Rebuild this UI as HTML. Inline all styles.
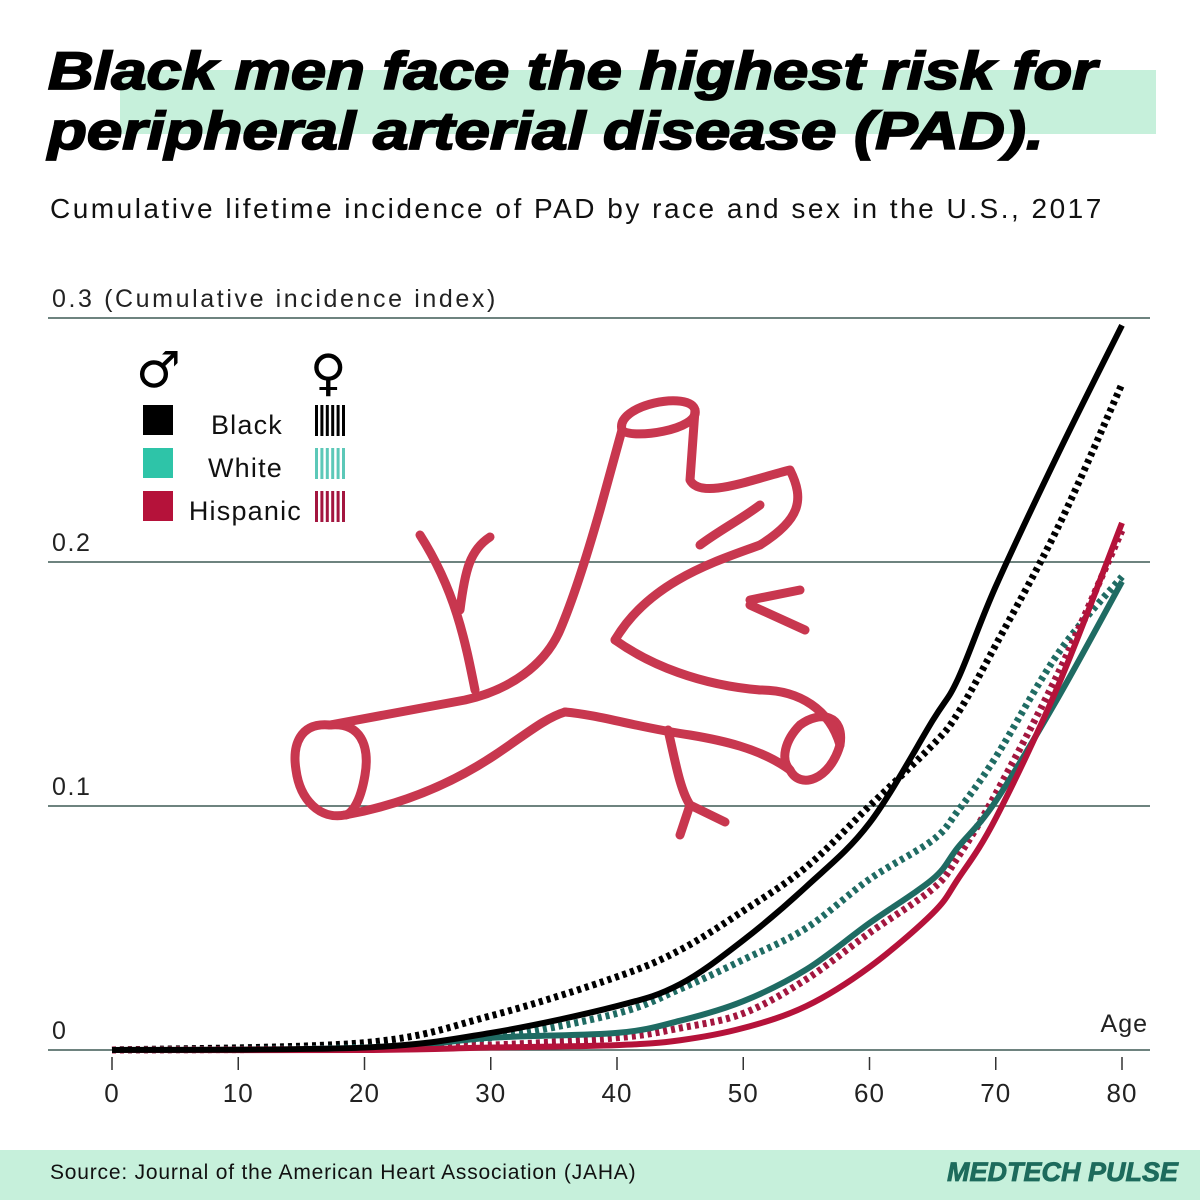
<!DOCTYPE html>
<html><head><meta charset="utf-8"><style>
body{margin:0;width:1200px;height:1200px;background:#fff;position:relative;overflow:hidden;font-family:"Liberation Sans",sans-serif}
.hl{position:absolute;left:120px;top:70px;width:1036px;height:64px;background:#c6f0db}
.t{position:absolute;left:48px;margin:0;font-size:53px;line-height:60px;font-weight:900;font-style:italic;color:#000;-webkit-text-stroke:1.8px #000;transform-origin:0 0;white-space:nowrap}
.sub{position:absolute;left:50px;top:193px;font-size:28px;letter-spacing:2.5px;color:#111;white-space:nowrap}
.foot{position:absolute;left:0;top:1150px;width:1200px;height:50px;background:#c6f0db}
.src{position:absolute;left:50px;top:1161px;font-size:21px;letter-spacing:0.8px;color:#111}
.brand{position:absolute;right:22px;top:1157px;font-size:27px;font-weight:900;font-style:italic;color:#1d6b5c;-webkit-text-stroke:0.8px #1d6b5c}
</style></head><body>
<div class="hl"></div>
<div>
<div class="t" style="top:42px;transform:scaleX(1.195)">Black men face the highest risk for</div>
<div class="t" style="top:102px;transform:scaleX(1.2)">peripheral arterial disease (PAD).</div>
</div>
<div class="sub">Cumulative lifetime incidence of PAD by race and sex in the U.S., 2017</div>
<svg id="chart" width="1200" height="1200" style="position:absolute;left:0;top:0"></svg>
<div class="foot"></div>
<div class="src">Source: Journal of the American Heart Association (JAHA)</div>
<div class="brand">MEDTECH PULSE</div>
<script>
const ages=[0,20,30,40,45,50,55,60,65,67,70,75,80];
const blackMale=[0,0.001,0.007,0.018,0.027,0.045,0.067,0.093,0.135,0.152,0.19,0.245,0.297];
const blackFemale=[0,0.003,0.014,0.03,0.041,0.057,0.075,0.1,0.125,0.138,0.166,0.215,0.273];
const whiteMale=[0,0.0005,0.005,0.007,0.012,0.02,0.033,0.052,0.07,0.083,0.102,0.145,0.192];
const whiteFemale=[0,0.001,0.005,0.015,0.025,0.037,0.05,0.07,0.086,0.098,0.12,0.163,0.194];
const hispMale=[0,0,0.001,0.002,0.004,0.009,0.018,0.034,0.056,0.07,0.095,0.15,0.216];
const hispFemale=[0,0.0005,0.002,0.005,0.009,0.015,0.029,0.048,0.066,0.079,0.105,0.155,0.213];
const xTicks=[0,10,20,30,40,50,60,70,80];
const yTicks=[0,0.1,0.2,0.3];
const yTickLabels=["0","0.1","0.2","0.3"];
const X=a=>112+a*12.625, Y=v=>1050-v*2440;
const NS="http://www.w3.org/2000/svg", svg=document.getElementById('chart');
function mk(t,at,p){const e=document.createElementNS(NS,t);for(const k in at)e.setAttribute(k,at[k]);(p||svg).appendChild(e);return e;}
yTicks.forEach((v,i)=>{
 const l=mk('line',{x1:48,x2:1150,y1:Y(v),y2:Y(v),stroke:'#3f5a55','stroke-width':1.5});
 
 
 const t=mk('text',{x:52,y:Y(v)-11,'font-size':25,'letter-spacing':i===3?2.6:1.6,fill:'#222','font-family':'Liberation Sans'});
 t.textContent=yTickLabels[i]+(i===3?'  (Cumulative incidence index)':'');
 
 
});
xTicks.forEach(a=>{
 const l=mk('line',{x1:X(a),x2:X(a),y1:1057,y2:1070,stroke:'#333','stroke-width':1.5});
 
 
 const t=mk('text',{x:X(a),y:1102,'font-size':26,'letter-spacing':1,fill:'#222','text-anchor':'middle','font-family':'Liberation Sans'});
 t.textContent=a;
 
 
});
const ag=mk('text',{x:1148,y:1032,'font-size':25,'letter-spacing':1,fill:'#222','text-anchor':'end','font-family':'Liberation Sans'});ag.textContent='Age';


// artery illustration
const art=mk('g',{fill:'none',stroke:'#c8374f','stroke-width':9,'stroke-linecap':'round','stroke-linejoin':'round'});


[
"M330,725 C300,722 292,745 296,770 C300,800 320,820 345,815",
"M330,725 C360,722 370,745 365,775 C360,805 350,815 345,815",
"M330,725 L465,700 C510,690 545,665 560,630 C575,595 590,545 600,510 L622,430",
"M345,815 C400,805 450,785 495,755 C525,735 545,718 565,712",
"M565,712 C600,715 640,728 690,735 C720,740 760,748 790,770",
"M622,430 C615,405 690,390 695,410 C700,430 630,440 622,430",
"M695,410 L690,480 C700,500 750,480 790,470 C805,500 800,520 760,545 C720,560 650,580 615,640",
"M615,640 C650,665 700,685 760,690 M790,770 C800,790 830,780 840,745 C845,715 820,710 800,725 C785,740 780,760 790,770",
"M760,690 C800,690 830,710 840,745",
"M700,545 C720,530 740,520 760,505",
"M750,600 L800,590 M750,605 L805,630",
"M475,690 C465,640 455,590 420,535 M460,610 C465,570 470,550 490,537",
"M668,730 C675,760 680,790 690,805 L725,822 M690,805 L680,835",
].forEach(d=>mk('path',{d},art));
// series
const series=[
 {v:blackFemale,c:'#000',dash:true,n:'line-black-female'},
 {v:whiteFemale,c:'#1f6b63',dash:true,n:'line-white-female'},
 {v:hispFemale,c:'#a3163f',dash:true,n:'line-hispanic-female'},
 {v:whiteMale,c:'#1f6b63',dash:false,n:'line-white-male'},
 {v:hispMale,c:'#b5123a',dash:false,n:'line-hispanic-male'},
 {v:blackMale,c:'#000',dash:false,n:'line-black-male'},
];
function pathFor(v){
 const pts=ages.map((a,i)=>[X(a),Y(v[i])]);
 let d='M'+pts[0][0]+','+pts[0][1];
 for(let i=0;i<pts.length-1;i++){
  const p0=pts[i-1]||pts[i],p1=pts[i],p2=pts[i+1],p3=pts[i+2]||p2;
  const c1=[p1[0]+(p2[0]-p0[0])/6,p1[1]+(p2[1]-p0[1])/6],c2=[p2[0]-(p3[0]-p1[0])/6,p2[1]-(p3[1]-p1[1])/6];
  d+=` C${c1[0]},${c1[1]} ${c2[0]},${c2[1]} ${p2[0]},${p2[1]}`;
 }
 return d;
}
series.forEach(s=>{
 const at={d:pathFor(s.v),fill:'none',stroke:s.c,'stroke-width':s.dash?7:6};
 if(s.dash)at['stroke-dasharray']='4 4';
 const p=mk('path',at);
 
 
});
// legend
const lg=mk('g',{});


const ms=mk('text',{x:136,y:387,'font-size':50,'font-family':'DejaVu Sans','font-weight':'bold'},lg);ms.textContent='♂';
const fs=mk('text',{x:310,y:390,'font-size':50,'font-family':'DejaVu Sans','font-weight':'bold'},lg);fs.textContent='♀';
const leg=[['Black','#000','#000'],['White','#2ec4a8','#5cc8b8'],['Hispanic','#b5123a','#a3163f']];
leg.forEach((r,i)=>{
 const y=405+i*43;
 const e=mk('g',{},lg);
 
 
 mk('rect',{x:143,y:y,width:30,height:30,fill:r[1]},e);
 const t=mk('text',{x:i===2?302:283,y:y+29,'font-size':27,'letter-spacing':1.2,'text-anchor':'end',fill:'#111','font-family':'Liberation Sans'},e);t.textContent=r[0];
 for(let k=0;k<6;k++)mk('rect',{x:315+k*5.4,y:y,width:3,height:31,fill:r[2]},e);
});
</script>
</body></html>
